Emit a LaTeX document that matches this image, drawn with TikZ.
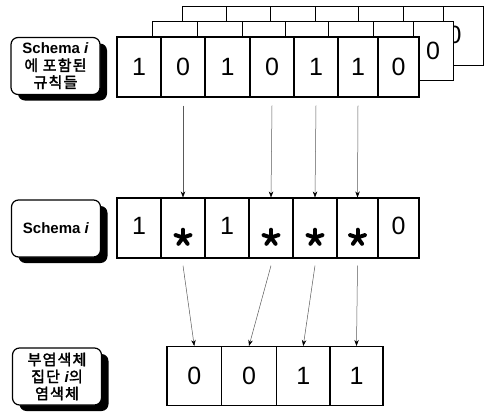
\documentclass[tikz,border=0pt]{standalone}
\usepackage{fontspec}
\setmainfont{Liberation Sans}
\newfontfamily\kr[LetterSpace=8,AutoFakeBold=2.2]{Noto Sans CJK KR}
\usetikzlibrary{arrows.meta,shadows}
\begin{document}
\begin{tikzpicture}[x=1pt,y=-1pt,
  cell/.style={draw=black,fill=white,line width=1.1pt,inner sep=0pt,font=\fontsize{25}{25}\selectfont},
  backcell/.style={cell,line width=1pt},
  lab/.style={draw=black,fill=white,line width=1.2pt,rounded corners=7pt,minimum width=89pt,minimum height=57pt,inner sep=0pt,align=center,font=\fontsize{15}{17}\selectfont\bfseries,drop shadow={shadow xshift=7pt,shadow yshift=-6pt,fill=black,opacity=1}},
  starline/.style={line width=4pt,line cap=round},
  conn/.style={draw=black!65,line width=0.5pt,-{Stealth[length=6pt,width=4.5pt,black]}}]
\useasboundingbox (0,0) rectangle (487,413);
% back layer 2
\foreach \l/\r [count=\i] in {182/226,226/270,270/315,315/358,358/403,403/443,443/483} {
  \pgfmathsetmacro\w{\r-\l}
  \node[backcell,minimum width=\w pt,minimum height=59pt] (p\i) at ({(\l+\r)/2},35.5) {};
}
\node[font=\fontsize{25}{25}\selectfont,inner sep=0pt] (p7t) at (454.5,35) {0};
% back layer 1
\foreach \l/\r/\t [count=\i] in {152/197/{},197/242/{},242/285/{},285/328/{},328/373/{},373/413/{},413/453/0} {
  \pgfmathsetmacro\w{\r-\l}
  \node[backcell,minimum width=\w pt,minimum height=59pt] (q\i) at ({(\l+\r)/2},50.5) {\t};
}
% front layer
\foreach \l/\r/\t [count=\i] in {117/161/1,161/205/0,205/250/1,250/294/0,294/338/1,338/378/1,378/419/0} {
  \pgfmathsetmacro\w{\r-\l}
  \node[cell,minimum width=\w pt,minimum height=60pt] (t\i) at ({(\l+\r)/2},67) {\t};
}
% middle row
\foreach \l/\r/\t [count=\i] in {117/161/1,161/205/{},205/249/1,249/293/{},293/337/{},337/378/{},378/419/0} {
  \pgfmathsetmacro\w{\r-\l}
  \node[cell,minimum width=\w pt,minimum height=60pt] (m\i) at ({(\l+\r)/2},228) {\raisebox{4.5pt}{\t}};
}
\foreach \c in {m2,m4,m5,m6} {
  \foreach \a in {270,342,54,126,198} {
    \draw[starline] ([yshift=-9.5pt]\c.center) -- ++(\a:7.8);
  }
}
% bottom row
\foreach \l/\r/\t [count=\i] in {167/221.5/0,221.5/276.5/0,276.5/330/1,330/383/1} {
  \pgfmathsetmacro\w{\r-\l}
  \node[cell,minimum width=\w pt,minimum height=59pt] (c\i) at ({(\l+\r)/2},376) {\t};
}
% labels
\node[lab] (L1) at (55.5,66) {Schema \textit{i}\\{\kr 에 포함된}\\{\kr 규칙들}};
\node[lab] (L2) at (56,228.5) {Schema \textit{i}};
\node[lab] (L3) at (57,376.5) {{\kr 부염색체}\\{\kr 집단 }\textit{i}{\kr 의}\\{\kr 염색체}};
% connectors
\draw[conn] ([yshift=-8pt]t2.south) -- (m2.north);
\draw[conn] ([yshift=-8pt]t4.south) -- (m4.north);
\draw[conn] ([yshift=-8pt]t5.south) -- (m5.north);
\draw[conn] ([yshift=-8pt]t6.south) -- (m6.north);
\draw[conn] ([yshift=-7pt]m2.south) -- (c1.north);
\draw[conn] ([yshift=-7pt]m4.south) -- (c2.north);
\draw[conn] ([yshift=-7pt]m5.south) -- (c3.north);
\draw[conn] ([yshift=-7pt]m6.south) -- (c4.north);
\end{tikzpicture}
\end{document}
